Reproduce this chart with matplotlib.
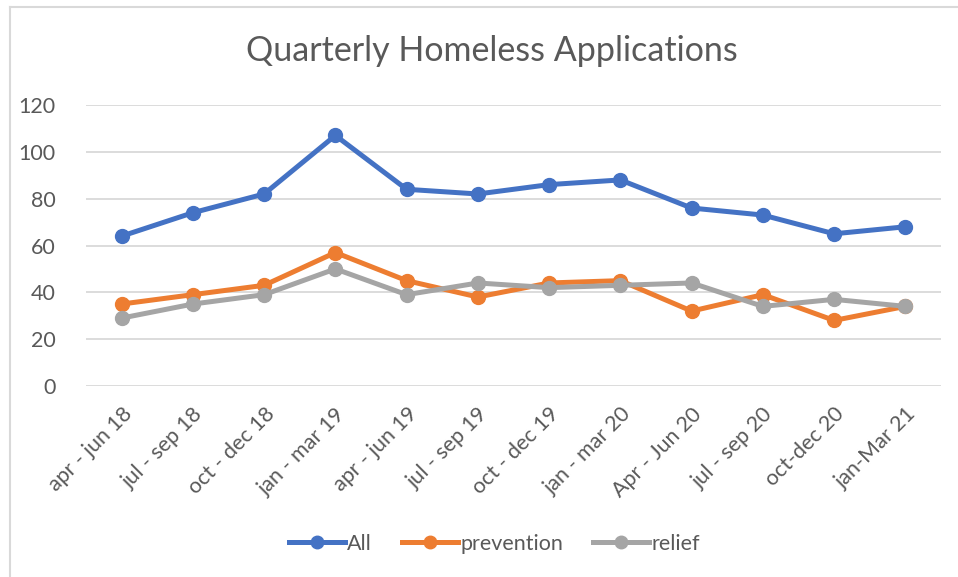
import matplotlib.pyplot as plt
import numpy as np
from matplotlib.lines import Line2D

quarters = ['apr - jun 18', 'jul - sep 18', 'oct - dec 18', 'jan - mar 19',
            'apr - jun 19', 'jul - sep 19', 'oct - dec 19', 'jan - mar 20',
            'Apr - Jun 20', 'jul - sep 20', 'oct-dec 20', 'jan-Mar 21']
all_apps = [64, 74, 82, 107, 84, 82, 86, 88, 76, 73, 65, 68]
prevention = [35, 39, 43, 57, 45, 38, 44, 45, 32, 39, 28, 34]
relief = [29, 35, 39, 50, 39, 44, 42, 43, 44, 34, 37, 34]

plt.rcParams['font.family'] = ['Lato', 'DejaVu Sans']
text_col = '#595959'

fig = plt.figure(figsize=(9.58, 5.77), dpi=100)
ax = fig.add_axes([86 / 958, 1 - 386 / 577, (941 - 86) / 958, (386 - 105) / 577])

x = np.arange(len(quarters))
series = [(all_apps, '#4472C4', 'All'),
          (prevention, '#ED7D31', 'prevention'),
          (relief, '#A5A5A5', 'relief')]
for vals, col, name in series:
    ax.plot(x, vals, color=col, lw=3.6, marker='o', ms=10, label=name,
            solid_capstyle='round', solid_joinstyle='round')

ax.set_xlim(-0.5, len(quarters) - 0.5)
ax.set_ylim(0, 120)
ax.set_yticks(range(0, 121, 20))
ax.grid(axis='y', color='#D9D9D9', lw=1.3)
ax.set_axisbelow(True)
for s in ax.spines.values():
    s.set_visible(False)
ax.tick_params(length=0, colors=text_col, labelsize=15.5)
ax.tick_params(axis='y', pad=22)
ax.set_xticks(x)
ax.set_xticklabels(quarters, rotation=45, ha='right', rotation_mode='anchor')
ax.tick_params(axis='x', pad=13)

fig.text(0.513, 1 - 51 / 577, 'Quarterly Homeless Applications', ha='center',
         va='center', fontsize=24.5, color=text_col)

handles = [Line2D([], [], color=c, lw=3.6, marker='o', ms=9) for _, c, _ in series]
fig.legend(handles, [n for _, _, n in series], loc='center',
           bbox_to_anchor=(0.516, 1 - 544 / 577), ncol=3, frameon=False,
           fontsize=15.5, labelcolor=text_col, handlelength=2.6,
           handletextpad=0.1, columnspacing=1.4)

# chart area border (only top and left edges show)
fig.add_artist(Line2D([10 / 958, 1], [1 - 7 / 577] * 2, color='#D9D9D9', lw=1.5))
fig.add_artist(Line2D([10 / 958] * 2, [0, 1 - 7 / 577], color='#D9D9D9', lw=1.5))

fig.savefig('out.png', dpi=100)
